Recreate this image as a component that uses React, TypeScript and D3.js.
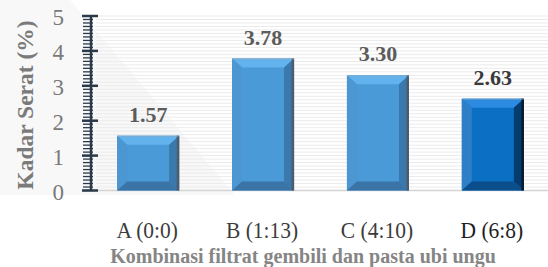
import React from "react";
import * as d3 from "d3";

const categories = ["A (0:0)", "B (1:13)", "C (4:10)", "D (6:8)"];
const values = [1.57, 3.78, 3.3, 2.63];
const valueLabels = ["1.57", "3.78", "3.30", "2.63"];
const yTicks = [0, 1, 2, 3, 4, 5];
const minorTicks = d3.range(0, 50).map((i) => i / 10);

const width = 548;
const height = 267;
const serif = "'Liberation Serif', 'Times New Roman', serif";

const lightBar = {
  face: "#4a9ad8",
  top: "#62b2ee",
  left: "#4c96d2",
  right: "#3b78ab",
  bottom: "#3a74a6",
  edge: "#4d5d6e",
};
const darkBar = {
  face: "#0b6fc3",
  top: "#2c8be0",
  left: "#2f7fc6",
  right: "#053c70",
  bottom: "#0a4e8c",
  edge: "#0a1b2c",
};

const App = () => {
  const x = d3
    .scaleBand<string>()
    .domain(categories)
    .range([93, 548])
    .paddingInner(0.46)
    .paddingOuter(0.21);

  const y = d3.scaleLinear().domain([0, 5]).range([190.5, 16]);

  const axisX = 91;
  const axisColor = "#2b3a4b";

  return (
    <svg width={width} height={height} style={{ display: "block", position: "absolute", left: 0, top: 0 }}>
      <rect width={width} height={height} fill="#ffffff" />
      {/* faint watermark shape */}
      <path d="M0,0 L70,0 L235,195 L0,195 Z" fill="#f4f4f4" opacity={0.6} />

      {/* grid lines */}
      {minorTicks.slice(1).concat([5]).map((t, i) => (
        <line
          key={"g" + i}
          x1={axisX + 5}
          x2={width}
          y1={y(t)}
          y2={y(t)}
          stroke="#ebebeb"
          strokeWidth={1}
        />
      ))}
      <line x1={axisX} x2={width} y1={y(0)} y2={y(0)} stroke="#d4d4d4" strokeWidth={1.5} />

      {/* bars */}
      {categories.map((c, i) => {
        const col = i === 3 ? darkBar : lightBar;
        const x0 = x(c)!;
        const w = x.bandwidth();
        const x1 = x0 + w;
        const y0 = y(values[i]);
        const y1 = y(0);
        const bx = 10;
        const by = 9;
        const cx = x0 + w / 2;
        return (
          <g key={c}>
            <rect x={x0} y={y0} width={w} height={y1 - y0} fill={col.face} />
            <polygon
              points={`${x0},${y0} ${x1},${y0} ${x1 - bx},${y0 + by} ${x0 + bx},${y0 + by}`}
              fill={col.top}
            />
            <polygon
              points={`${x0},${y0} ${x0 + bx},${y0 + by} ${x0 + bx},${y1 - by} ${x0},${y1}`}
              fill={col.left}
            />
            <polygon
              points={`${x1},${y0} ${x1},${y1} ${x1 - bx},${y1 - by} ${x1 - bx},${y0 + by}`}
              fill={col.right}
            />
            <polygon
              points={`${x0},${y1} ${x0 + bx},${y1 - by} ${x1 - bx},${y1 - by} ${x1},${y1}`}
              fill={col.bottom}
            />
            <rect x={x1 - 2.5} y={y0} width={2.5} height={y1 - y0} fill={col.edge} />
            <rect x={x0} y={y0} width={w} height={1} fill="#8fa6bb" opacity={0.6} />
            <text
              x={cx}
              y={y0 - 14}
              textAnchor="middle"
              fontFamily={serif}
              fontWeight="bold"
              fontSize={22}
              fill={i === 3 ? "#3a3a3a" : "#5c5c5c"}
            >
              {valueLabels[i]}
            </text>
            <text
              transform={`translate(${cx - 1}, 238) scale(1, 1.12)`}
              textAnchor="middle"
              fontFamily={serif}
              fontSize={21.5}
              fill={i === 3 ? "#1e1e1e" : "#3c3c3c"}
            >
              {c}
            </text>
          </g>
        );
      })}

      {/* y axis */}
      <line x1={axisX} x2={axisX} y1={y(5)} y2={y(0)} stroke={axisColor} strokeWidth={2.5} />
      {minorTicks.map((t, i) => (
        <line key={"m" + i} x1={83} x2={93} y1={y(t)} y2={y(t)} stroke={axisColor} strokeWidth={1.3} />
      ))}
      {yTicks.map((t) => (
        <g key={"t" + t}>
          <line x1={82} x2={98} y1={y(t)} y2={y(t)} stroke={axisColor} strokeWidth={2.5} />
          <text
            x={64}
            y={y(t) + 9}
            textAnchor="end"
            fontFamily={serif}
            fontSize={23}
            fill="#7a7a7a"
          >
            {t}
          </text>
        </g>
      ))}

      {/* axis titles */}
      <text
        transform={`translate(33, 105) rotate(-90)`}
        textAnchor="middle"
        fontFamily={serif}
        fontWeight="bold"
        fontSize={23.5}
        fill="#7a7a7a"
      >
        Kadar Serat (%)
      </text>
      <text
        x={303}
        y={263}
        textAnchor="middle"
        fontFamily={serif}
        fontWeight="bold"
        fontSize={20}
        fill="#858585"
      >
        Kombinasi filtrat gembili dan pasta ubi ungu
      </text>
    </svg>
  );
};

export default App;
